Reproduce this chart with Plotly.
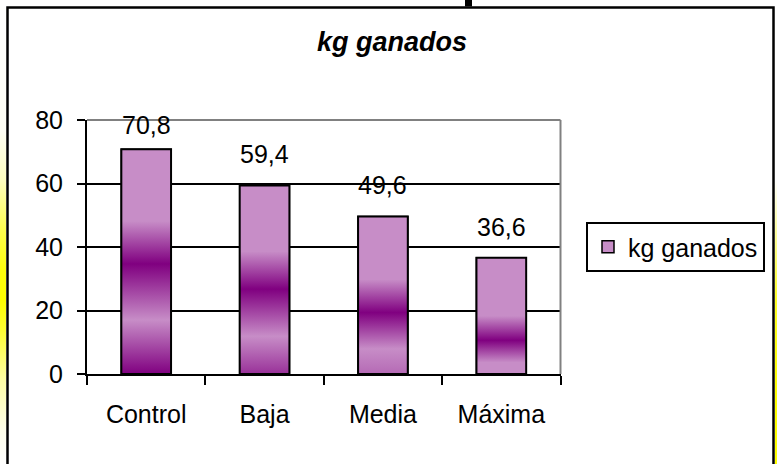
import plotly.graph_objects as go

# ---- data ----
categories = ["Control", "Baja", "Media", "Máxima"]
kg_ganados = [70.8, 59.4, 49.6, 36.6]
y_ticks = [0, 20, 40, 60, 80]
series_name = "kg ganados"
chart_title = "kg ganados"

# ---- style ----
W, H = 777, 464
FONT = "Liberation Sans, Arial, sans-serif"
LIGHT = (199, 141, 199)
DARK = (128, 0, 128)
BAR_W = 0.42
# darkness profile of each bar's vertical gradient (position from bottom, darkness)
grad_profiles = [
    [(0.0, 1.0), (0.24, 0.0), (0.49, 1.0), (0.68, 0.0), (1.0, 0.0)],
    [(0.0, 0.65), (0.20, 0.0), (0.45, 1.0), (0.65, 0.0), (1.0, 0.0)],
    [(0.0, 0.25), (0.16, 0.0), (0.39, 1.0), (0.60, 0.0), (1.0, 0.0)],
    [(0.0, 0.0), (0.10, 0.0), (0.29, 1.0), (0.50, 0.0), (1.0, 0.0)],
]
left_strip_rows = [0, 130, 180, 230, 270, 300, 330, 380, 430, 464]
left_strip_int = [0, 0.04, 0.25, 0.7, 0.95, 1.0, 0.8, 0.35, 0.08, 0]
right_strip_rows = [0, 180, 220, 300, 400, 464]
right_strip_int = [0, 0, 0.3, 0.85, 1.0, 1.0]


def px(x):
    return x / W


def py(y):
    return 1 - y / H


def mix(t):
    c = [round(LIGHT[k] + (DARK[k] - LIGHT[k]) * t) for k in range(3)]
    return "rgb(%d,%d,%d)" % tuple(c)


fig = go.Figure()

xs = list(range(len(categories)))
fig.add_trace(go.Bar(
    x=xs, y=kg_ganados, width=BAR_W, name=series_name,
    marker=dict(color=mix(0), line=dict(color="black", width=1.5)),
    showlegend=True, hoverinfo="skip",
))

for i, v in enumerate(kg_ganados):
    x0, x1 = i - BAR_W / 2, i + BAR_W / 2
    fig.add_trace(go.Scatter(
        x=[x0, x1, x1, x0, x0], y=[0, 0, v, v, 0],
        mode="lines", fill="toself",
        fillgradient=dict(type="vertical", start=0, stop=v,
                          colorscale=[[p, mix(t)] for p, t in grad_profiles[i]]),
        line=dict(color="black", width=2),
        showlegend=False, hoverinfo="skip",
    ))

# value labels
label_offset = 9.8
label_cap = 78.3
for i, v in enumerate(kg_ganados):
    fig.add_annotation(
        x=i, y=min(v + label_offset, label_cap), xref="x", yref="y",
        text=f"{v:.1f}".replace(".", ","), showarrow=False,
        font=dict(family=FONT, size=25, color="black"), yanchor="middle",
    )

# decorative yellow strips on the page edges
fig.add_trace(go.Heatmap(
    z=[[v, v] for v in left_strip_int], x=[0, 1], y=left_strip_rows,
    colorscale=[[0, "white"], [1, "rgb(255,255,0)"]], zmin=0, zmax=1,
    zsmooth="best", showscale=False, xaxis="x2", yaxis="y2", hoverinfo="skip",
))
fig.add_trace(go.Heatmap(
    z=[[v, v] for v in right_strip_int], x=[0, 1], y=right_strip_rows,
    colorscale=[[0, "white"], [1, "rgb(255,255,0)"]], zmin=0, zmax=1,
    zsmooth="best", showscale=False, xaxis="x3", yaxis="y3", hoverinfo="skip",
))

fig.update_layout(
    template="none",
    width=W, height=H, autosize=False,
    margin=dict(l=0, r=0, t=0, b=0, pad=0, autoexpand=False),
    paper_bgcolor="white", plot_bgcolor="#C0C0C0",
    font=dict(family=FONT, color="black"),
    hovermode=False,
    showlegend=True,
    legend=dict(
        x=px(586), y=py(222), xanchor="left", yanchor="top",
        bgcolor="white", bordercolor="black", borderwidth=2,
        font=dict(family=FONT, size=25, color="black"), itemwidth=30,
    ),
    xaxis=dict(
        domain=[px(87), px(560.5)], range=[-0.5, len(categories) - 0.5],
        tickmode="array", tickvals=xs, ticktext=categories, ticks="",
        tickfont=dict(family=FONT, size=25, color="black"),
        ticklabelstandoff=17, automargin=False,
        showline=True, linecolor="black", linewidth=2, showgrid=False,
        zeroline=False, fixedrange=True,
        minor=dict(tickmode="array",
                   tickvals=[i - 0.5 for i in range(len(categories) + 1)],
                   ticks="outside", ticklen=9, tickwidth=2, tickcolor="black",
                   showgrid=False),
    ),
    yaxis=dict(
        domain=[py(374), py(120)], range=[0, 80],
        tickmode="array", tickvals=y_ticks,
        ticks="outside", ticklen=8, tickwidth=2, tickcolor="black",
        tickfont=dict(family=FONT, size=25, color="black"),
        ticklabelstandoff=9, automargin=False,
        showline=True, linecolor="black", linewidth=2,
        showgrid=True, gridcolor="black", gridwidth=2, zeroline=False,
        fixedrange=True,
    ),
    xaxis2=dict(domain=[0, px(6)], anchor="y2", visible=False, range=[0, 1],
                automargin=False, fixedrange=True),
    yaxis2=dict(domain=[0, 1], anchor="x2", visible=False, range=[H, 0],
                automargin=False, fixedrange=True),
    xaxis3=dict(domain=[px(775), 1], anchor="y3", visible=False, range=[0, 1],
                automargin=False, fixedrange=True),
    yaxis3=dict(domain=[0, 1], anchor="x3", visible=False, range=[H, 0],
                automargin=False, fixedrange=True),
)

# outer chart frame
fig.add_shape(type="rect", xref="paper", yref="paper",
              x0=px(7.5), x1=px(773.5), y0=-0.05, y1=py(7.5),
              line=dict(color="black", width=2.5), fillcolor="white", layer="below")
# fragment of the page heading above the frame
fig.add_shape(type="rect", xref="paper", yref="paper",
              x0=px(465), x1=px(472), y0=py(6.5), y1=1.0,
              line=dict(width=0), fillcolor="black", layer="above")
# grey plot-area border (top and right)
fig.add_shape(type="line", xref="x domain", yref="y domain", x0=0, x1=1, y0=1, y1=1,
              line=dict(color="#808080", width=2), layer="above")
fig.add_shape(type="line", xref="x domain", yref="y domain", x0=1, x1=1, y0=0, y1=1,
              line=dict(color="#808080", width=2), layer="above")

fig.add_annotation(
    x=px(391.5), y=py(42), xref="paper", yref="paper",
    text=f"<b><i>{chart_title}</i></b>", showarrow=False,
    font=dict(family=FONT, size=27, color="black"), yanchor="middle",
)

fig.write_html(
    "out.html",
    config={"displayModeBar": False},
    post_script="document.body.style.margin='0px';document.body.style.overflow='hidden';",
)
